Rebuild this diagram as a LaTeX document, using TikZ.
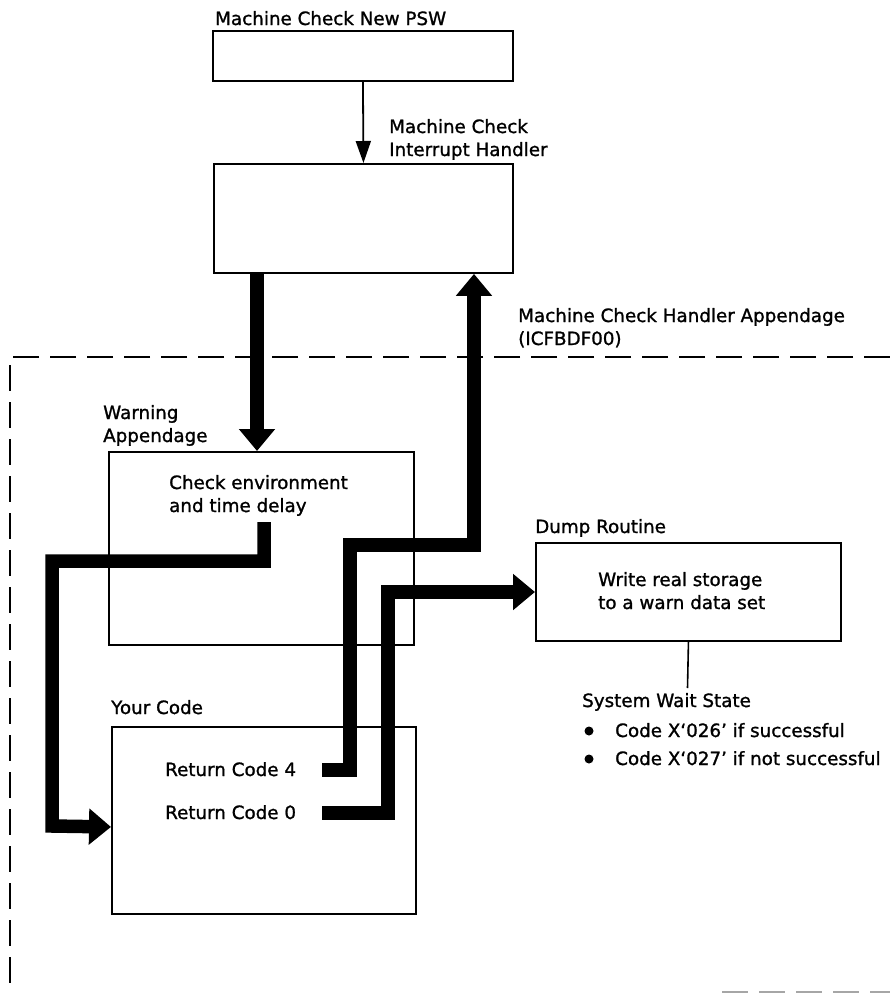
\documentclass[tikz,border=0pt]{standalone}
\usepackage{fontspec}
\setmainfont{DejaVu Sans}[FakeBold=1.2]
\usetikzlibrary{arrows.meta}
\begin{document}
\begin{tikzpicture}[x=1pt,y=-1pt,
  box/.style={draw, line width=1.9pt, inner sep=0pt, anchor=north west},
  lbl/.style={anchor=base west, inner sep=0pt, font=\fontsize{18.3}{23}\selectfont},
  thk/.style={line width=13.5pt, -{Triangle[length=22pt,width=35pt]}},
  thin/.style={line width=1.8pt, -{Triangle[length=22pt,width=15pt]}},
  bound/.style={line width=1.6pt, dash pattern=on 26pt off 11pt}
]
\useasboundingbox (0,0) rectangle (890,993);

% boxes
\node[box, minimum width=300pt, minimum height=50pt] (psw) at (212,30) {};
\node[box, minimum width=299pt, minimum height=109pt] (ih) at (213,163) {};
\node[box, minimum width=305pt, minimum height=193pt] (warn) at (108,451) {};
\node[box, minimum width=305pt, minimum height=98pt] (dump) at (535,542) {};
\node[box, minimum width=304pt, minimum height=187pt] (yc) at (111,726) {};

% labels
\node[lbl] (lpsw) at (215,25) {Machine Check New PSW};
\node[lbl] (lih1) at (389,133) {Machine Check};
\node[lbl] (lih2) at (389,156) {Interrupt Handler};
\node[lbl] (lmc1) at (518,322) {Machine Check Handler Appendage};
\node[lbl] (lmc2) at (518,345) {(ICFBDF00)};
\node[lbl] (lw1) at (103,419) {Warning};
\node[lbl] (lw2) at (103,442) {Appendage};
\node[lbl] (lc1) at (169,489) {Check environment};
\node[lbl] (lc2) at (169,512) {and time delay};
\node[lbl] (ld) at (535,533) {Dump Routine};
\node[lbl] (ld1) at (598,586) {Write real storage};
\node[lbl] (ld2) at (598,609) {to a warn data set};
\node[lbl] (lsws) at (582,707) {System Wait State};
\node[lbl] (lb1) at (615,737) {Code X‘026’ if successful};
\node[lbl] (lb2) at (615,765) {Code X‘027’ if not successful};
\node[lbl] (lyc) at (111,714) {Your Code};
\node[lbl] (rc4) at (165,776) {Return Code 4};
\node[lbl] (rc0) at (165,819) {Return Code 0};

% bullets
\fill (589,731) circle (4.5);
\fill (589,759) circle (4.5);

% boundary of the appendage
\draw[bound] (890,357) -- (10,357) -- (10,993);
\draw[bound, black!35, line width=1.2pt] (722,992) -- (890,992);

% connectors
\draw[thin] (psw.south) -- (ih.north);
\draw[thk] ([xshift=44pt]ih.south west) -- ([xshift=149pt]warn.north west);

\coordinate (wst) at (264,522);
\draw[thk] (wst) -- (264,561) -- (52,561) -- (52,826) -- ([yshift=-6.5pt]yc.west);

\coordinate (r4) at (322,770);
\draw[thk] (r4) -- (350,770) -- (350,545) -- (474,545) -- ([xshift=261pt]ih.south west);

\coordinate (r0) at (322,813);
\draw[thk] (r0) -- (388,813) -- (388,592) -- (dump.west |- 0,592);

\coordinate (swsend) at (687.5,688);
\draw[line width=1.6pt] (dump.south) -- (swsend);

\end{tikzpicture}
\end{document}
